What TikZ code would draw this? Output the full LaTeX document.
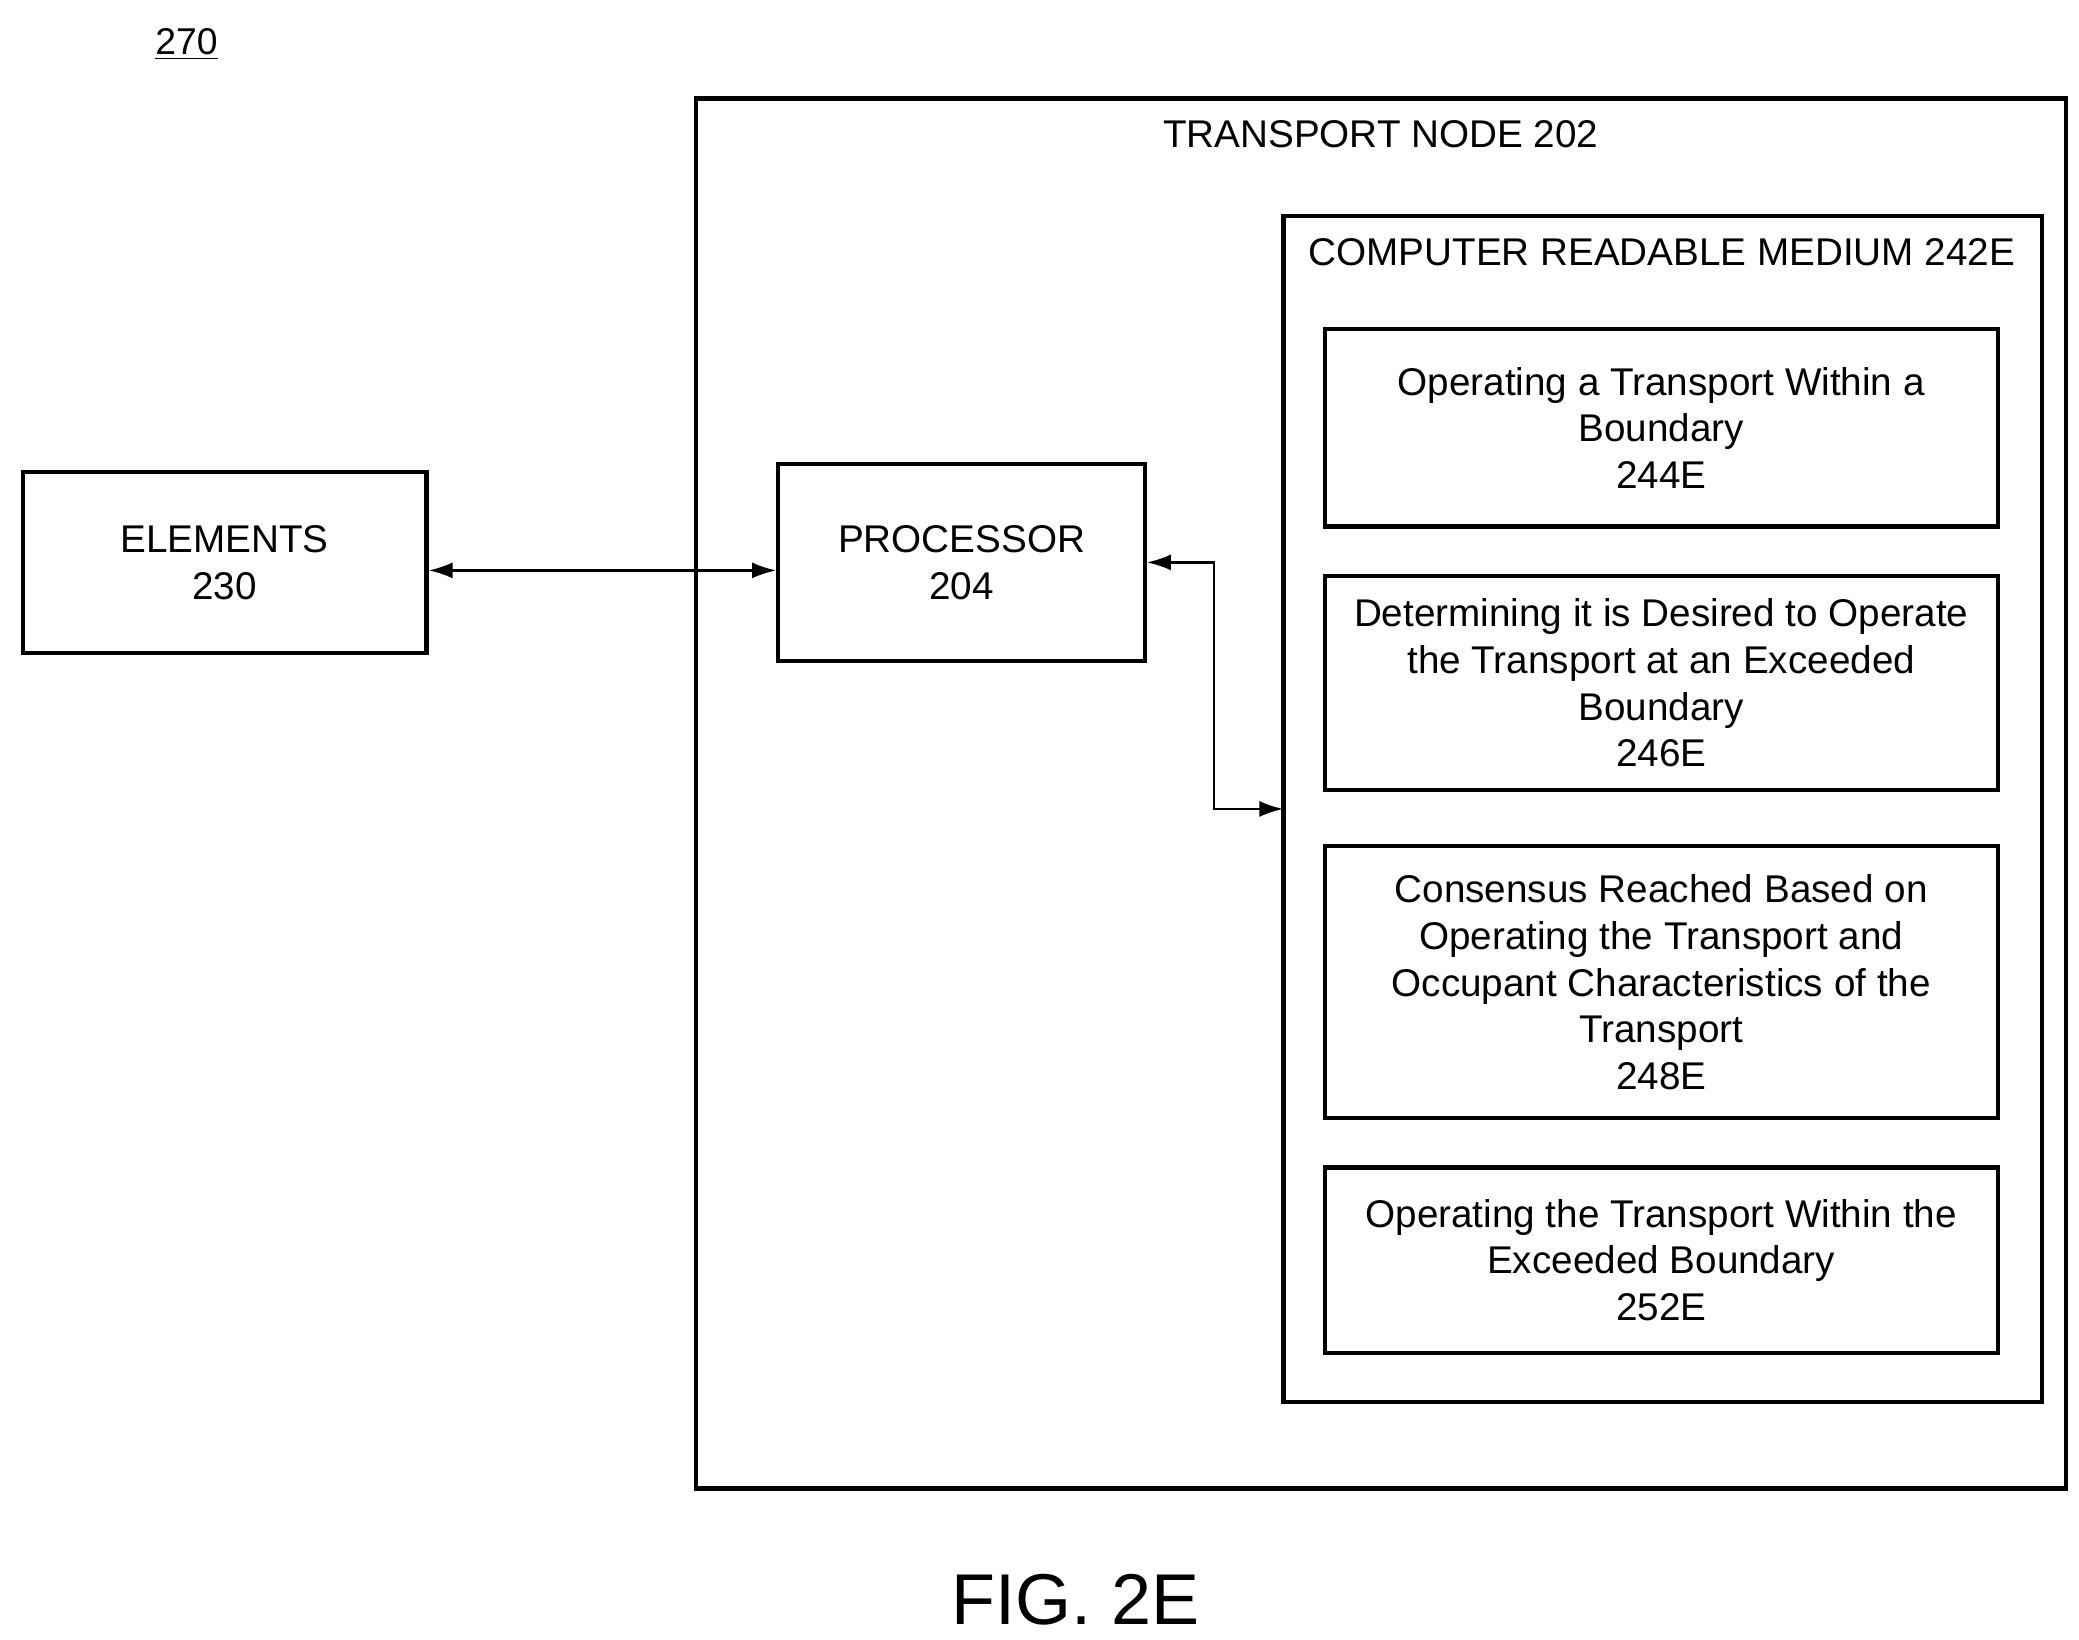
\documentclass[tikz,border=0pt]{standalone}
\usepackage{fontspec}
\setmainfont{Liberation Sans}
\usetikzlibrary{arrows.meta}
\begin{document}
\begin{tikzpicture}[x=0.5pt,y=-0.5pt,
 box/.style={draw,line width=1.6pt},
 txt/.style={align=center,font=\fontsize{14.5}{17.5}\selectfont},
 arr/.style={line width=0.9pt,{Latex[length=9pt,width=6pt]}-{Latex[length=9pt,width=6pt]}}]
\useasboundingbox (0,0) rectangle (1560,1230);
\node[font=\fontsize{14}{16}\selectfont] (lbl) at (140,33) {\underline{270}};
\draw[box] (522,74) rectangle (1550,1117);
\node[txt] (tn) at (1036,101) {TRANSPORT NODE 202};
\draw[box] (963,162) rectangle (1532,1052);
\coordinate (crm) at (963,607);
\node[txt] (crmt) at (1247,189) {COMPUTER READABLE MEDIUM 242E};
\node[box,txt,minimum width=252.5pt,minimum height=74pt] (b1) at (1246.5,321) {Operating a Transport Within a\\Boundary\\244E};
\node[box,txt,minimum width=252.5pt,minimum height=80.5pt] (b2) at (1246.5,512.5) {Determining it is Desired to Operate\\the Transport at an Exceeded\\Boundary\\246E};
\node[box,txt,minimum width=252.5pt,minimum height=102pt] (b3) at (1246.5,737) {Consensus Reached Based on\\Operating the Transport and\\Occupant Characteristics of the\\Transport\\248E};
\node[box,txt,minimum width=252.5pt,minimum height=69.5pt] (b4) at (1246.5,945.5) {Operating the Transport Within the\\Exceeded Boundary\\252E};
\node[box,txt,minimum width=151.5pt,minimum height=68pt] (el) at (168.5,422) {ELEMENTS\\230};
\node[box,txt,minimum width=137.5pt,minimum height=74pt] (pr) at (721.5,422) {PROCESSOR\\204};
\draw[arr] (el.east |- 0,428) -- (pr.west |- 0,428);
\draw[arr] (pr.east) -- (911,422) -- (911,607) -- (crm);
\node[font=\fontsize{27}{30}\selectfont] (fig) at (807,1200) {FIG. 2E};
\end{tikzpicture}
\end{document}
